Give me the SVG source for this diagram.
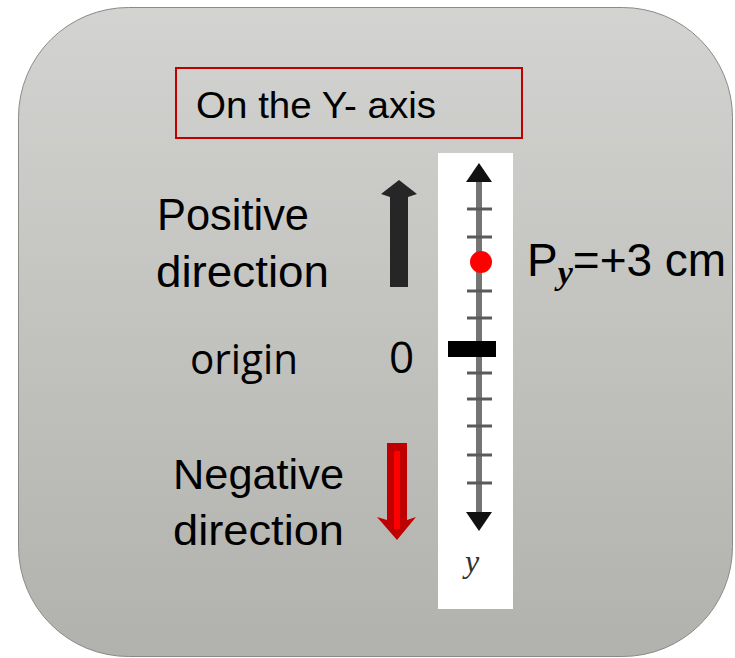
<svg xmlns="http://www.w3.org/2000/svg" width="735" height="658" viewBox="0 0 735 658">
  <defs>
    <linearGradient id="bg" x1="0" y1="0" x2="0" y2="1">
      <stop offset="0" stop-color="#d3d3d1"/>
      <stop offset="1" stop-color="#b1b2ad"/>
    </linearGradient>
    <style>
      .lbl { font-family: "Liberation Sans", Arial, sans-serif; fill: #000; }
      .cal { font-family: "Open Sans", "Noto Sans", sans-serif; fill: #000; }
      .tick { stroke: #5a5a5a; stroke-width: 3; }
    </style>
  </defs>
  <g id="panel">
    <rect x="18.5" y="7.5" width="714" height="649" rx="110" ry="110" fill="url(#bg)" stroke="#8a8a88" stroke-width="1"/>
  </g>
  <g id="title">
    <rect x="176" y="68" width="346" height="70" fill="none" stroke="#c00000" stroke-width="2"/>
    <text class="lbl" x="196" y="118" font-size="36" textLength="240" lengthAdjust="spacingAndGlyphs">On the Y- axis</text>
  </g>
  <g id="positive">
    <text class="lbl" x="157" y="230" font-size="45" textLength="152" lengthAdjust="spacingAndGlyphs">Positive</text>
    <text class="lbl" x="156" y="287" font-size="45" textLength="173" lengthAdjust="spacingAndGlyphs">direction</text>
    <polygon points="399,180 417,194 408,197 408,287 390,287 390,197 381,194" fill="#262626"/>
  </g>
  <g id="origin">
    <text class="cal" x="190" y="374" font-size="42" textLength="108" lengthAdjust="spacingAndGlyphs">origin</text>
    <text class="cal" x="389" y="373" font-size="44">0</text>
  </g>
  <g id="negative">
    <text class="lbl" x="173" y="489" font-size="43" textLength="171" lengthAdjust="spacingAndGlyphs">Negative</text>
    <text class="lbl" x="173" y="545" font-size="43" textLength="171" lengthAdjust="spacingAndGlyphs">direction</text>
    <polygon points="387,443 407,443 407,520 416,517 397,540 377,517 387,520" fill="#c00000"/>
    <rect x="394" y="451" width="6" height="78" fill="#ff0000"/>
  </g>
  <g id="axis">
    <rect x="438" y="153" width="75" height="456" fill="#ffffff"/>
    <line x1="479" y1="178" x2="479" y2="515" stroke="#747474" stroke-width="6"/>
    <polygon points="479,163 492,182 466,182" fill="#111"/>
    <polygon points="466,512 492,512 479,531" fill="#111"/>
    <line class="tick" x1="467" y1="209" x2="492" y2="209"/>
    <line class="tick" x1="467" y1="237" x2="492" y2="237"/>
    <line class="tick" x1="467" y1="291" x2="492" y2="291"/>
    <line class="tick" x1="467" y1="318" x2="492" y2="318"/>
    <line class="tick" x1="467" y1="373" x2="492" y2="373"/>
    <line class="tick" x1="467" y1="399" x2="492" y2="399"/>
    <line class="tick" x1="467" y1="426" x2="492" y2="426"/>
    <line class="tick" x1="467" y1="455" x2="492" y2="455"/>
    <line class="tick" x1="467" y1="483" x2="492" y2="483"/>
    <rect x="448" y="341" width="48" height="16" fill="#000"/>
    <text x="465" y="572" font-family="Liberation Serif, serif" font-style="italic" font-size="32" fill="#333">y</text>
  </g>
  <g id="point">
    <circle cx="481" cy="262" r="11" fill="#ff0000"/>
    <text class="lbl" x="527" y="276" font-size="46">P<tspan font-family="Liberation Serif, serif" font-style="italic" font-weight="bold" font-size="34" dy="8">y</tspan><tspan dy="-8">=+3 cm</tspan></text>
  </g>
</svg>
